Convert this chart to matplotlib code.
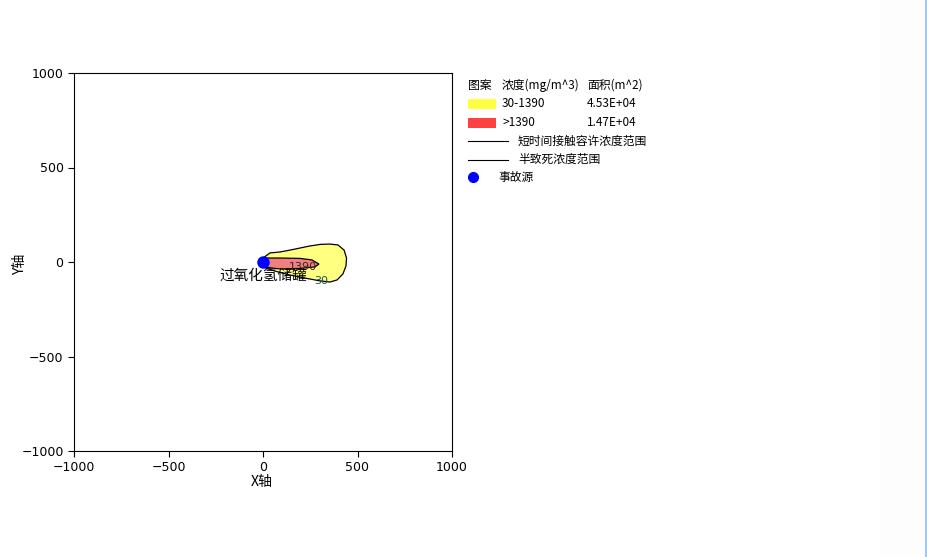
import matplotlib
matplotlib.use("Agg")
import matplotlib.pyplot as plt
from matplotlib.patches import Polygon, Rectangle
from matplotlib.lines import Line2D

plt.rcParams['font.family'] = ['Noto Sans CJK SC', 'DejaVu Sans']

# Data
yellow_x = [0, 37, 90, 143, 196, 249, 302, 354, 397, 429, 442, 439, 423, 392, 354, 302, 222, 143, 63, 0]
yellow_y = [21, 48, 53, 63, 74, 85, 93, 95, 90, 63, 21, -21, -63, -95, -106, -100, -85, -69, -48, -26]
red_x = [0, 90, 196, 259, 296, 275, 196, 90, 0]
red_y = [21, 21, 19, 11, -11, -26, -34, -37, -26]
source_xy = (0, 0)
source_name = "过氧化氢储罐"
label_hi = "1390"
label_lo = "30"
ticks = [-1000, -500, 0, 500, 1000]
legend_header = ["图案", "浓度(mg/m^3)", "面积(m^2)"]
legend_rows = [("30-1390", "4.53E+04"), (">1390", "1.47E+04")]
legend_lines = ["短时间接触容许浓度范围", "半致死浓度范围"]
legend_source = "事故源"

W, H = 927, 557
fig = plt.figure(figsize=(W / 100, H / 100), dpi=100)
ax = fig.add_axes([74 / W, (H - 451) / H, 378 / W, 378 / H])
ax.set_xlim(-1000, 1000)
ax.set_ylim(-1000, 1000)
ax.set_xticks(ticks)
ax.set_yticks(ticks)
ax.tick_params(direction='out', length=4, width=0.8, labelsize=9)
for lab in ax.get_xticklabels() + ax.get_yticklabels():
    lab.set_family('DejaVu Sans')
for s in ax.spines.values():
    s.set_linewidth(0.8)

ax.add_patch(Polygon(list(zip(yellow_x, yellow_y)), closed=True, facecolor='#ffff80',
                     edgecolor='black', linewidth=0.9, zorder=2))
ax.add_patch(Polygon(list(zip(red_x, red_y)), closed=True, facecolor='#f08080',
                     edgecolor='black', linewidth=0.9, zorder=3))
ax.plot([source_xy[0]], [source_xy[1]], 'o', color='#0000ff', markersize=8, zorder=5)
ax.text(212, -28, label_hi, fontsize=8, color='#402020', ha='center', va='center', zorder=6,
        family='DejaVu Sans')
ax.text(307, -100, label_lo, fontsize=8, color='#205060', ha='center', va='center', zorder=6,
        family='DejaVu Sans')
ax.text(-228, -74, source_name, fontsize=10.5, color='black', ha='left', va='center', zorder=7)

ax.set_xlabel("X轴", fontsize=10)
ax.set_ylabel("Y轴", fontsize=10)
ax.xaxis.set_label_coords((262 - 74) / 378, (451 - 482) / 378)
ax.yaxis.set_label_coords((20 - 74) / 378, (451 - 264) / 378)
ax.xaxis.label.set_va('center')
ax.yaxis.label.set_va('center')

# Legend drawn in figure pixel coordinates
def fx(px):
    return px / W

def fy(py):
    return 1 - py / H

fs = 8.5
fig.text(fx(468), fy(85), legend_header[0], fontsize=fs, va='center', ha='left')
fig.text(fx(502), fy(85), legend_header[1], fontsize=fs, va='center', ha='left')
fig.text(fx(587), fy(85), legend_header[2], fontsize=fs, va='center', ha='left')
colors = ['#ffff40', '#ff4040']
for i, ((rng, area), c) in enumerate(zip(legend_rows, colors)):
    yc = 104 + i * 18.5
    fig.patches.append(Rectangle((fx(468), fy(yc + 5)), 28 / W, 10 / H, transform=fig.transFigure,
                                 facecolor=c, edgecolor='none'))
    fig.text(fx(502), fy(yc), rng, fontsize=fs, va='center', ha='left')
    fig.text(fx(587), fy(yc), area, fontsize=fs, va='center', ha='left')
for i, name in enumerate(legend_lines):
    yc = 141 + i * 18.5
    fig.lines.append(Line2D([fx(468), fx(508)], [fy(yc), fy(yc)], transform=fig.transFigure,
                            color='black', linewidth=0.8))
    fig.text(fx(518), fy(yc), name, fontsize=fs, va='center', ha='left')
fig.lines.append(Line2D([fx(473)], [fy(177)], transform=fig.transFigure, marker='o',
                        color='#0000ff', markersize=7, linestyle='none'))
fig.text(fx(498), fy(177), legend_source, fontsize=fs, va='center', ha='left')

# right edge strip
fig.patches.append(Rectangle((fx(880), 0), 45 / W, 1, transform=fig.transFigure,
                             facecolor='#fdfdfd', edgecolor='none', zorder=-1))
fig.lines.append(Line2D([fx(925.5), fx(925.5)], [0, 1], transform=fig.transFigure,
                        color='#a8c8f0', linewidth=1.5))

fig.savefig("out.png", dpi=100)
